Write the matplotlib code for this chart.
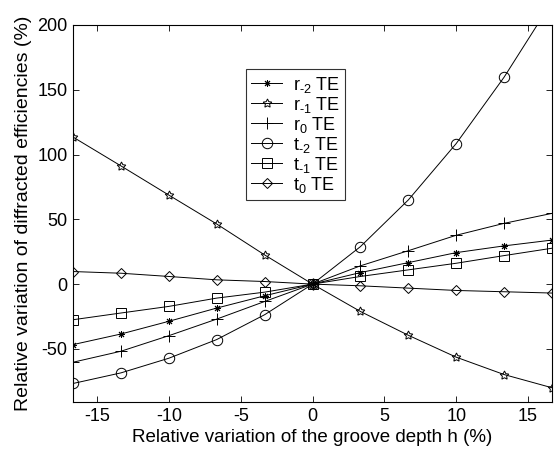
import matplotlib
matplotlib.use("Agg")
import matplotlib.pyplot as plt

plt.rcParams['font.family'] = ['Liberation Sans', 'DejaVu Sans']
plt.rcParams['axes.unicode_minus'] = False
plt.rcParams['mathtext.fontset'] = 'custom'
plt.rcParams['mathtext.rm'] = 'Liberation Sans'
plt.rcParams['mathtext.it'] = 'Liberation Sans'
plt.rcParams['mathtext.default'] = 'regular'

h = [-16.67, -13.33, -10.0, -6.67, -3.33, 0.0, 3.33, 6.67, 10.0, 13.33, 16.67]

r_m2 = [-46.7, -38.5, -28.7, -18.5, -9.0, 0.0, 8.9, 16.6, 24.3, 29.5, 34.0]
r_m1 = [113.5, 91.2, 68.7, 46.4, 22.5, 0.0, -21.1, -39.5, -56.4, -69.8, -80.0]
r_0 = [-60.3, -51.8, -39.8, -27.0, -13.4, 0.0, 14.1, 25.8, 37.7, 46.9, 54.6]
t_m2 = [-76.7, -68.5, -57.2, -42.8, -23.6, 0.0, 28.9, 65.0, 108.5, 159.7, 218.0]
t_m1 = [-27.5, -22.3, -17.2, -10.8, -6.2, 0.0, 5.9, 11.0, 16.1, 22.0, 27.7]
t_0 = [9.7, 8.4, 5.9, 3.3, 2.0, 0.0, -1.3, -3.1, -4.9, -5.9, -6.9]

labels = ['r$_{\u2010 2}$ TE', 'r$_{\u2010 1}$ TE', 'r$_{0}$ TE',
          't$_{\u2010 2}$ TE', 't$_{\u2010 1}$ TE', 't$_{0}$ TE']
series = [r_m2, r_m1, r_0, t_m2, t_m1, t_0]
markers = [(8, 2, 0), (5, 1, 0), '+', 'o', 's', 'D']
msizes = [5, 6.5, 8.5, 7.5, 6.5, 5]

fig = plt.figure(figsize=(5.59, 4.54), dpi=100)
ax = fig.add_axes([0.1306, 0.1145, 0.857, 0.8305])

for y, lab, m, ms in zip(series, labels, markers, msizes):
    ax.plot(h, y, color='black', linewidth=0.7, marker=m, markersize=ms,
            markerfacecolor='none', markeredgecolor='black',
            markeredgewidth=0.7, label=lab)

ax.set_xlim(-16.67, 16.67)
ax.set_ylim(-91, 200)
ax.set_xticks([-15, -10, -5, 0, 5, 10, 15])
ax.set_yticks([-50, 0, 50, 100, 150, 200])
ax.tick_params(direction='in', top=True, right=True, labelsize=13, length=4,
               width=0.6, pad=4)
for s in ax.spines.values():
    s.set_linewidth(0.8)

ax.set_xlabel('Relative variation of the groove depth h (%)', fontsize=13.5,
              labelpad=3)
ax.set_ylabel('Relative variation of diffracted efficiencies (%)', fontsize=14,
              labelpad=4)

leg = ax.legend(loc='upper left', bbox_to_anchor=(0.361, 0.883), fontsize=13,
                frameon=True, fancybox=False, edgecolor='black',
                handlelength=1.7, labelspacing=0.0, borderpad=0.3,
                handletextpad=0.6, borderaxespad=0)
leg.get_frame().set_linewidth(0.8)

fig.savefig('out.png', dpi=100)
